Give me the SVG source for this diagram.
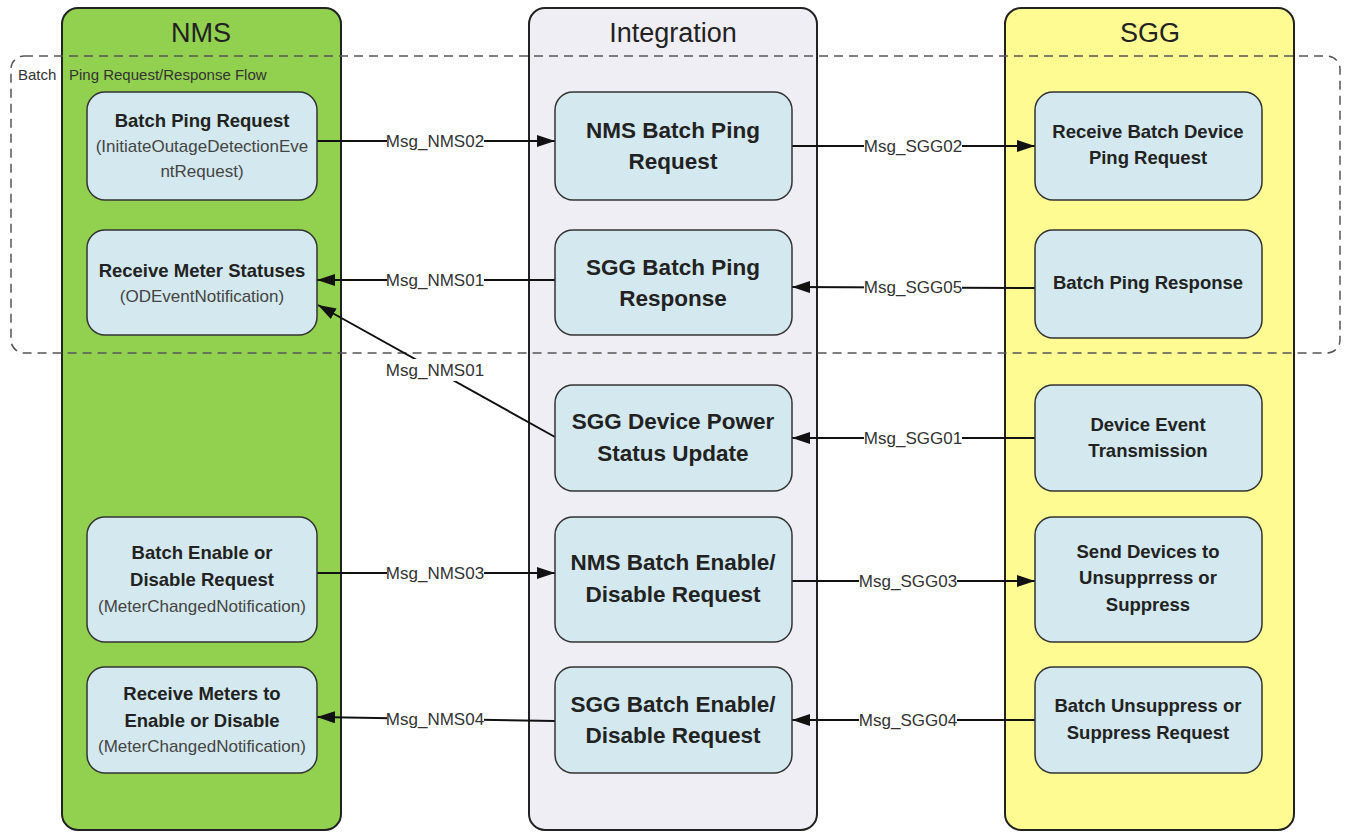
<svg xmlns="http://www.w3.org/2000/svg" width="1349" height="834" viewBox="0 0 1349 834">
<style>
.lane{stroke:#222;stroke-width:2}
.title{font-family:"Liberation Sans",Arial,sans-serif;font-size:27px;fill:#222;text-anchor:middle}
.node{fill:#d3e9ef;stroke:#333;stroke-width:1.5}
.b{font-family:"Liberation Sans",Arial,sans-serif;font-weight:bold;font-size:18.5px;fill:#222;text-anchor:middle}
.bi{font-family:"Liberation Sans",Arial,sans-serif;font-weight:bold;font-size:22.5px;fill:#222;text-anchor:middle}
.s{font-family:"Liberation Sans",Arial,sans-serif;font-size:17px;fill:#444;text-anchor:middle}
.c{stroke:#111;stroke-width:2;fill:none}
.lbg{fill:#fff}
.lbl{font-family:"Liberation Sans",Arial,sans-serif;font-size:17px;fill:#333;text-anchor:middle}
.grp{fill:none;stroke:#555;stroke-width:1.5;stroke-dasharray:9,6}
.gl{font-family:"Liberation Sans",Arial,sans-serif;font-size:15px;fill:#333}
</style>
<defs>
<marker id="arr" viewBox="0 0 18 12" refX="18" refY="6" markerWidth="18" markerHeight="12" markerUnits="userSpaceOnUse" orient="auto">
<path d="M0,0 L18,6 L0,12 z" fill="#111"/>
</marker>
</defs>
<rect width="1349" height="834" fill="#fff"/>
<g id="lanes">
<g id="lane-nms"><rect class="lane" x="62" y="8" width="279" height="822" rx="16" fill="#92d050"/><text class="title" x="201" y="42">NMS</text></g>
<g id="lane-integration"><rect class="lane" x="529" y="8" width="288" height="822" rx="16" fill="#f0eef5"/><text class="title" x="673" y="42">Integration</text></g>
<g id="lane-sgg"><rect class="lane" x="1005" y="8" width="289" height="822" rx="16" fill="#fdfb92"/><text class="title" x="1150" y="42">SGG</text></g>
</g>
<g id="group-batch-ping">
<rect class="grp" x="11" y="56" width="1329" height="297" rx="13"/>
<text class="gl" y="80"><tspan x="18">Batch</tspan><tspan x="69">Ping Request/Response Flow</tspan></text>
</g>
<g id="connectors">
<line class="c" x1="317" y1="141" x2="555" y2="141" marker-end="url(#arr)"/>
<line class="c" x1="792" y1="146" x2="1035" y2="146" marker-end="url(#arr)"/>
<line class="c" x1="555" y1="280" x2="317" y2="280" marker-end="url(#arr)"/>
<line class="c" x1="1035" y1="288" x2="792" y2="287" marker-end="url(#arr)"/>
<line class="c" x1="555" y1="437" x2="318" y2="305" marker-end="url(#arr)"/>
<line class="c" x1="1035" y1="438" x2="792" y2="438" marker-end="url(#arr)"/>
<line class="c" x1="317" y1="573" x2="555" y2="573" marker-end="url(#arr)"/>
<line class="c" x1="792" y1="581" x2="1035" y2="581" marker-end="url(#arr)"/>
<line class="c" x1="555" y1="721" x2="317" y2="717" marker-end="url(#arr)"/>
<line class="c" x1="1035" y1="720" x2="792" y2="720" marker-end="url(#arr)"/>
<rect class="lbg" x="387" y="131" width="97" height="20"/><text class="lbl" x="435" y="147">Msg_NMS02</text>
<rect class="lbg" x="864" y="136" width="98" height="20"/><text class="lbl" x="913" y="152">Msg_SGG02</text>
<rect class="lbg" x="387" y="270" width="97" height="20"/><text class="lbl" x="435" y="286">Msg_NMS01</text>
<rect class="lbg" x="864" y="277" width="98" height="20"/><text class="lbl" x="913" y="293">Msg_SGG05</text>
<rect class="lbg" x="387" y="359" width="97" height="22"/><text class="lbl" x="435" y="376">Msg_NMS01</text>
<rect class="lbg" x="864" y="428" width="98" height="20"/><text class="lbl" x="913" y="444">Msg_SGG01</text>
<rect class="lbg" x="387" y="563" width="97" height="20"/><text class="lbl" x="435" y="579">Msg_NMS03</text>
<rect class="lbg" x="859" y="571" width="98" height="20"/><text class="lbl" x="908" y="587">Msg_SGG03</text>
<rect class="lbg" x="387" y="709" width="97" height="20"/><text class="lbl" x="435" y="725">Msg_NMS04</text>
<rect class="lbg" x="859" y="710" width="98" height="20"/><text class="lbl" x="908" y="726">Msg_SGG04</text>
</g>
<g id="n-batch-ping-request"><rect class="node" x="87" y="92" width="230" height="108" rx="18"/>
<text class="b" x="202" y="127">Batch Ping Request</text><text class="s" x="202" y="152">(InitiateOutageDetectionEve</text><text class="s" x="202" y="177">ntRequest)</text></g>
<g id="n-receive-meter-statuses"><rect class="node" x="87" y="230" width="230" height="105" rx="18"/>
<text class="b" x="202" y="277">Receive Meter Statuses</text><text class="s" x="202" y="302">(ODEventNotification)</text></g>
<g id="n-batch-enable-disable"><rect class="node" x="87" y="517" width="230" height="125" rx="18"/>
<text class="b" x="202" y="559">Batch Enable or</text><text class="b" x="202" y="586">Disable Request</text><text class="s" x="202" y="612">(MeterChangedNotification)</text></g>
<g id="n-receive-meters-enable"><rect class="node" x="87" y="667" width="230" height="106" rx="18"/>
<text class="b" x="202" y="700">Receive Meters to</text><text class="b" x="202" y="727">Enable or Disable</text><text class="s" x="202" y="752">(MeterChangedNotification)</text></g>
<g id="n-nms-batch-ping-request"><rect class="node" x="555" y="92" width="237" height="108" rx="18"/>
<text class="bi" x="673" y="138">NMS Batch Ping</text><text class="bi" x="673" y="169">Request</text></g>
<g id="n-sgg-batch-ping-response"><rect class="node" x="555" y="230" width="237" height="105" rx="18"/>
<text class="bi" x="673" y="275">SGG Batch Ping</text><text class="bi" x="673" y="306">Response</text></g>
<g id="n-sgg-device-power"><rect class="node" x="555" y="385" width="237" height="106" rx="18"/>
<text class="bi" x="673" y="429">SGG Device Power</text><text class="bi" x="673" y="461">Status Update</text></g>
<g id="n-nms-batch-enable"><rect class="node" x="555" y="517" width="237" height="125" rx="18"/>
<text class="bi" x="673" y="570">NMS Batch Enable/</text><text class="bi" x="673" y="602">Disable Request</text></g>
<g id="n-sgg-batch-enable"><rect class="node" x="555" y="667" width="237" height="106" rx="18"/>
<text class="bi" x="673" y="712">SGG Batch Enable/</text><text class="bi" x="673" y="743">Disable Request</text></g>
<g id="n-receive-batch-device-ping"><rect class="node" x="1035" y="92" width="227" height="108" rx="18"/>
<text class="b" x="1148" y="138">Receive Batch Device</text><text class="b" x="1148" y="164">Ping Request</text></g>
<g id="n-batch-ping-response"><rect class="node" x="1035" y="230" width="227" height="108" rx="18"/>
<text class="b" x="1148" y="289">Batch Ping Response</text></g>
<g id="n-device-event"><rect class="node" x="1035" y="385" width="227" height="106" rx="18"/>
<text class="b" x="1148" y="431">Device Event</text><text class="b" x="1148" y="457">Transmission</text></g>
<g id="n-send-devices"><rect class="node" x="1035" y="517" width="227" height="125" rx="18"/>
<text class="b" x="1148" y="558">Send Devices to</text><text class="b" x="1148" y="584">Unsupprress or</text><text class="b" x="1148" y="611">Suppress</text></g>
<g id="n-batch-unsuppress"><rect class="node" x="1035" y="667" width="227" height="106" rx="18"/>
<text class="b" x="1148" y="712">Batch Unsuppress or</text><text class="b" x="1148" y="739">Suppress Request</text></g>
</svg>
